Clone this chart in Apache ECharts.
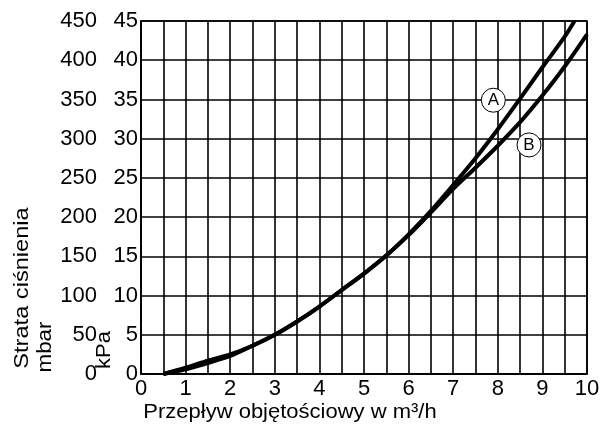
<!DOCTYPE html>
<html><head><meta charset="utf-8">
<script src="https://cdn.jsdelivr.net/npm/echarts@6/dist/echarts.min.js"></script>
<style>html,body{margin:0;padding:0;background:#fff}#c{width:604px;height:425px}</style>
</head><body><div id="c"></div>
<script>
const xA = [0.5,1,1.5,2,2.5,3,3.5,4,4.5,5,5.5,6,6.5,7,7.5,8,8.5,9,9.5,9.72];
const yA = [0,6,14,23,36,50,67,86,107,128,151,178,208,241,275,312,351,391,430,450];
const xB = [0.5,1,1.5,2,2.5,3,3.5,4,4.5,5,5.5,6,6.5,7,7.5,8,8.5,9,9.5,10];
const yB = [0,8,17,25,36,50,67,86,107,128,151,177,206,236,263,291,321,355,392,433];
const markA = [7.9, 349];
const markB = [8.7, 292];
const xTicks = [0,1,2,3,4,5,6,7,8,9,10];
const mbarTicks = [0,50,100,150,200,250,300,350,400,450];
const kpaTicks = [0,5,10,15,20,25,30,35,40,45];

const FONT = 'Liberation Sans';
const chart = echarts.init(document.getElementById('c'), null, {renderer:'canvas'});
const pair = (xs, ys) => xs.map((x,i)=>[x, ys[i]]);
const lineStyle = {color:'#000', width:1.6};
chart.setOption({
  animation:false,
  backgroundColor:'#fff',
  grid:{left:141, right:17, top:21, bottom:51, show:true, borderColor:'#000', borderWidth:1.6},
  xAxis:{type:'value', min:0, max:10, interval:0.5,
    axisLine:{lineStyle:lineStyle}, axisTick:{show:false},
    splitLine:{show:true, lineStyle:lineStyle},
    axisLabel:{fontFamily:FONT, fontSize:22, color:'#000', margin:4,
      formatter:v=> xTicks.includes(v) ? String(v) : ''}},
  yAxis:[
    {type:'value', min:0, max:450, interval:50, position:'left',
     axisLine:{show:true, lineStyle:lineStyle}, axisTick:{show:false},
     splitLine:{show:true, lineStyle:lineStyle},
     axisLabel:{fontFamily:FONT, fontSize:22, color:'#000', margin:44,
       formatter:v=> mbarTicks.includes(v) ? String(v) : ''}},
    {type:'value', min:0, max:45, interval:5, position:'left',
     axisLine:{show:false}, axisTick:{show:false}, splitLine:{show:false},
     axisLabel:{fontFamily:FONT, fontSize:22, color:'#000', margin:3,
       formatter:v=> kpaTicks.includes(v) ? String(v) : ''}}
  ],
  series:[
    {type:'line', data:pair(xA,yA), smooth:0.3, showSymbol:false, symbol:'none',
     lineStyle:{color:'#000', width:4}, z:5,
     markPoint:{symbol:'circle', symbolSize:24, silent:true,
       itemStyle:{color:'#fff', borderColor:'#000', borderWidth:1},
       label:{show:true, formatter:'A', fontFamily:FONT, fontSize:17, color:'#000'},
       data:[{coord:markA}]}},
    {type:'line', data:pair(xB,yB), smooth:0.3, showSymbol:false, symbol:'none',
     lineStyle:{color:'#000', width:4}, z:5,
     markPoint:{symbol:'circle', symbolSize:24, silent:true,
       itemStyle:{color:'#fff', borderColor:'#000', borderWidth:1},
       label:{show:true, formatter:'B', fontFamily:FONT, fontSize:17, color:'#000'},
       data:[{coord:markB}]}}
  ],
  graphic:[
    {type:'text', x:290, y:412, scaleX:1.1, style:{text:'Przepływ objętościowy w m³/h', font:'20px "Liberation Sans"', fill:'#000', textAlign:'center', textVerticalAlign:'middle'}},
    {type:'text', x:22, y:288, rotation:Math.PI/2, scaleX:1.18, style:{text:'Strata ciśnienia', font:'20px "Liberation Sans"', fill:'#000', textAlign:'center', textVerticalAlign:'middle'}},
    {type:'text', x:45, y:347, rotation:Math.PI/2, scaleX:1.12, style:{text:'mbar', font:'20px "Liberation Sans"', fill:'#000', textAlign:'center', textVerticalAlign:'middle'}},
    {type:'text', x:104, y:350, rotation:Math.PI/2, scaleX:1.1, style:{text:'kPa', font:'20px "Liberation Sans"', fill:'#000', textAlign:'center', textVerticalAlign:'middle'}}
  ]
});
</script></body></html>
